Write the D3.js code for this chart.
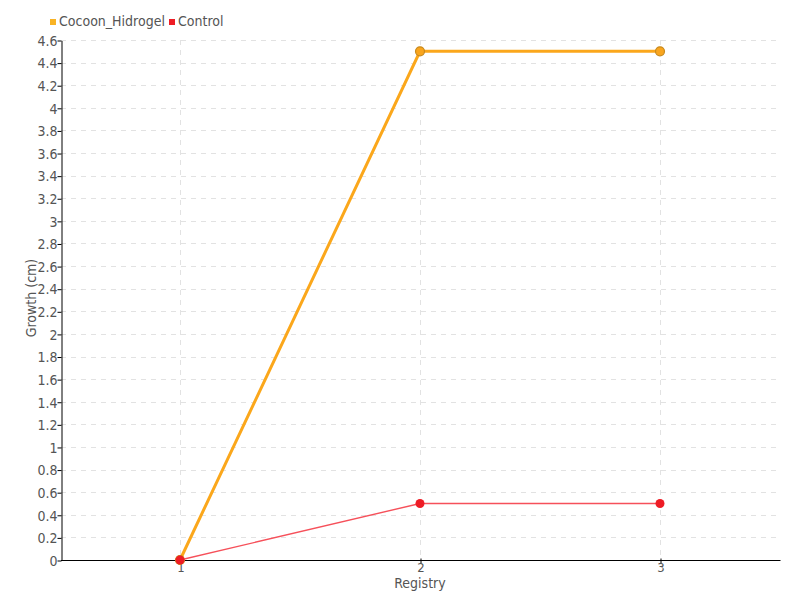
<!DOCTYPE html>
<html>
<head>
<meta charset="utf-8">
<script src="https://cdn.jsdelivr.net/npm/d3@7"></script>
<style>
  body { margin: 0; background: #fff; }
  svg text { font-family: "DejaVu Sans Condensed", "Liberation Sans Narrow", sans-serif; font-stretch: condensed; fill: #555; }
</style>
</head>
<body>
<svg id="chart" width="800" height="600"></svg>
<script>
const categories = ["1", "2", "3"];
const cocoonHidrogel = [0, 4.5, 4.5];
const control = [0, 0.5, 0.5];
const yTicks = [0, 0.2, 0.4, 0.6, 0.8, 1, 1.2, 1.4, 1.6, 1.8, 2, 2.2, 2.4, 2.6, 2.8, 3, 3.2, 3.4, 3.6, 3.8, 4, 4.2, 4.4, 4.6];
const seriesNames = ["Cocoon_Hidrogel", "Control"];

const svg = d3.select("#chart");
const x = d3.scalePoint().domain(categories).range([60, 780]).padding(0.5);
const y = d3.scaleLinear().domain([0, 4.6]).range([560, 40]);

// grid
const grid = svg.append("g");
grid.selectAll(".hg").data(yTicks.slice(1)).join("line")
  .attr("x1", 61).attr("x2", 780)
  .attr("y1", d => Math.round(y(d)) + 0.5).attr("y2", d => Math.round(y(d)) + 0.5)
  .attr("stroke", "#e2e2e2").attr("stroke-dasharray", "5,5");
grid.selectAll(".vg").data(categories).join("line")
  .attr("x1", d => x(d) + 0.5).attr("x2", d => x(d) + 0.5)
  .attr("y1", 40).attr("y2", 560)
  .attr("stroke", "#e2e2e2").attr("stroke-dasharray", "5,5");

// axes
const yAxis = svg.append("g").attr("transform", "translate(61.5,0.5)")
  .call(d3.axisLeft(y).tickValues(yTicks).tickSize(4).tickSizeOuter(0).tickFormat(d => String(+d.toFixed(1))));
yAxis.select(".domain").attr("stroke", "#000");
yAxis.selectAll(".tick line").attr("stroke", "#000");
yAxis.selectAll("text").attr("font-size", 14).attr("x", -4).attr("dy", "0.34em");

const xAxis = svg.append("g").attr("transform", "translate(0.5,560.5)")
  .call(d3.axisBottom(x).tickSize(3).tickSizeOuter(0));
xAxis.select(".domain").attr("stroke", "#000").attr("d", "M60.5,0H780");
xAxis.selectAll(".tick line").attr("stroke", "#000").attr("y1", -2);
xAxis.selectAll("text").attr("font-size", 13).attr("y", 2).attr("dy", "0.71em");

svg.append("text").attr("x", 420).attr("y", 588).attr("text-anchor", "middle")
  .attr("font-size", 14).text("Registry");
svg.append("text").attr("transform", "translate(36,298) rotate(-90)")
  .attr("text-anchor", "middle").attr("font-size", 14).text("Growth (cm)");

// lines
const line = d3.line().x((d, i) => x(categories[i])).y(d => y(d));
svg.append("path").datum(cocoonHidrogel).attr("d", line)
  .attr("fill", "none").attr("stroke", "#fba71b").attr("stroke-width", 3);
svg.selectAll(".cp").data(cocoonHidrogel).join("circle")
  .attr("cx", (d, i) => x(categories[i])).attr("cy", d => y(d)).attr("r", 4.5)
  .attr("fill", "#f9a51e").attr("stroke", "#c98a1e").attr("stroke-width", 1.2);

svg.append("path").datum(control).attr("d", line)
  .attr("fill", "none").attr("stroke", "#f6505a").attr("stroke-width", 1.4);
svg.selectAll(".rp").data(control).join("circle")
  .attr("cx", (d, i) => x(categories[i])).attr("cy", d => y(d)).attr("r", 4.5)
  .attr("fill", "#ee1c25");

// legend
const legendColors = ["#f9b324", "#ee1c25"];
const legendX = [50, 169];
const lg = svg.append("g");
seriesNames.forEach((n, i) => {
  lg.append("rect").attr("x", legendX[i]).attr("y", 19).attr("width", 6).attr("height", 6).attr("fill", legendColors[i]);
  lg.append("text").attr("x", legendX[i] + 9).attr("y", 26).attr("font-size", 14).text(n);
});
</script>
</body>
</html>
